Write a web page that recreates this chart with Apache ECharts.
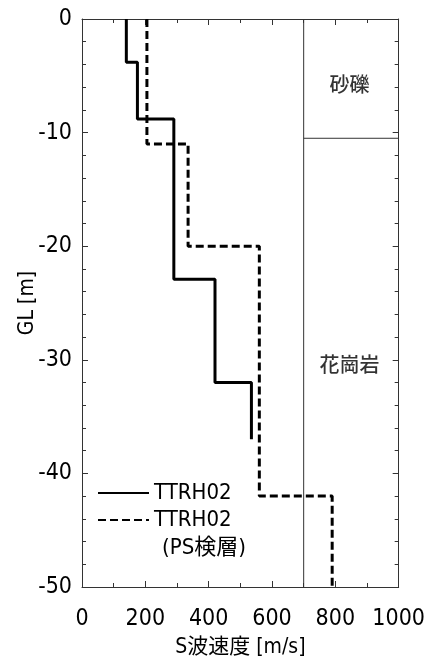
<!DOCTYPE html>
<html><head><meta charset="utf-8">
<script src="https://cdn.jsdelivr.net/npm/echarts@6/dist/echarts.min.js"></script>
<style>html,body{margin:0;padding:0;background:#fff}#c{width:428px;height:664px}</style>
</head><body><div id="c"></div>
<script>
// Solid: TTRH02 — layer velocities and layer boundary depths (m)
const solidVelocity = [140, 175, 290, 420, 535];
const solidDepth = [0, 3.8, 8.8, 22.9, 32, 37];
// Dashed: TTRH02 (PS検層)
const psVelocity = [205, 335, 560, 790];
const psDepth = [0, 11, 20, 42, 50];
// Geology column
const geoBoundaryVelocity = 700;
const geoLayerDepth = 10.5;
const geoLabels = ['砂礫', '花崗岩'];
const geoLabelPos = [[845, -5.8], [845, -30.4]];
const xTicks = [0, 200, 400, 600, 800, 1000];
const yTicks = [0, -10, -20, -30, -40, -50];

function steps(vel, dep) {
  const pts = [];
  for (let i = 0; i < vel.length; i++) {
    pts.push([vel[i], -dep[i]]);
    pts.push([vel[i], -dep[i + 1]]);
  }
  return pts;
}

const FONT = "'Liberation Sans Narrow','DejaVu Sans Condensed','Noto Sans CJK JP',sans-serif";
const AX = '#333';
const chart = echarts.init(document.getElementById('c'), null, {renderer: 'canvas'});
const baseX = {
  type: 'value', min: xTicks[0], max: xTicks[xTicks.length - 1], interval: 200,
  axisLine: {show: true, onZero: false, lineStyle: {color: AX, width: 1}},
  axisTick: {show: true, inside: true, length: 6, lineStyle: {color: AX}},
  minorTick: {show: true, splitNumber: 2, length: 4, lineStyle: {color: AX}},
  splitLine: {show: false}
};
const baseY = {
  type: 'value', min: yTicks[yTicks.length - 1], max: yTicks[0], interval: 10,
  axisLine: {show: true, onZero: false, lineStyle: {color: AX, width: 1}},
  axisTick: {show: true, inside: true, length: 6, lineStyle: {color: AX}},
  minorTick: {show: true, splitNumber: 5, length: 4, lineStyle: {color: AX}},
  splitLine: {show: false}
};
chart.setOption({
  animation: false,
  backgroundColor: '#fff',
  textStyle: {fontFamily: FONT, color: '#000'},
  grid: {left: 82, right: 29, top: 19, bottom: 77},
  xAxis: [
    Object.assign({}, baseX, {
      position: 'bottom',
      axisLabel: {fontSize: 23, color: '#000', margin: 21, fontFamily: FONT, formatter: v => String(v)},
      name: 'S波速度 [m/s]', nameLocation: 'middle', nameGap: 50, nameMoveOverlap: false,
      nameTextStyle: {fontSize: 21, color: '#000', fontFamily: FONT}
    }),
    Object.assign({}, baseX, {position: 'top', axisLabel: {show: false}})
  ],
  yAxis: [
    Object.assign({}, baseY, {
      position: 'left',
      axisLabel: {fontSize: 23, color: '#000', margin: 10, fontFamily: FONT},
      name: 'GL [m]', nameLocation: 'middle', nameGap: 44, nameRotate: 90, nameMoveOverlap: false,
      nameTextStyle: {fontSize: 21, color: '#000', fontFamily: FONT}
    }),
    Object.assign({}, baseY, {position: 'right', axisLabel: {show: false}})
  ],
  legend: {
    orient: 'vertical', left: 97, top: 482, padding: 0,
    itemWidth: 51, itemHeight: 14, itemGap: 5,
    itemStyle: {opacity: 0},
    data: ['TTRH02', 'TTRH02 (PS検層)'],
    formatter: function (n) { return 'TTRH02'; },
    textStyle: {fontSize: 22, color: '#000', fontFamily: FONT, lineHeight: 22}
  },
  graphic: [{
    type: 'text', left: 162, top: 537,
    style: {text: '(PS検層)', font: "22px " + FONT, fill: '#000'}
  }],
  series: [
    {
      name: 'geo', type: 'line', silent: true, symbol: 'none',
      lineStyle: {color: '#333', width: 1},
      data: [[geoBoundaryVelocity, yTicks[0]], [geoBoundaryVelocity, yTicks[yTicks.length - 1]]],
      z: 1
    },
    {
      name: 'geo2', type: 'line', silent: true, symbol: 'none',
      lineStyle: {color: '#333', width: 1},
      data: [[geoBoundaryVelocity, -geoLayerDepth], [xTicks[xTicks.length - 1], -geoLayerDepth]],
      z: 1
    },
    {
      name: 'geoLabels', type: 'scatter', symbolSize: 0, silent: true,
      data: geoLabelPos.map((p, i) => ({value: p, name: geoLabels[i]})),
      label: {show: true, position: 'inside', formatter: '{b}', fontSize: 20, color: '#000', fontWeight: 500, fontFamily: "'Noto Sans CJK JP',sans-serif"}
    },
    {
      name: 'TTRH02', type: 'line', symbol: 'none',
      lineStyle: {color: '#000', width: 3, type: 'solid'},
      itemStyle: {color: '#000'},
      data: steps(solidVelocity, solidDepth), z: 3
    },
    {
      name: 'TTRH02 (PS検層)', type: 'line', symbol: 'none',
      lineStyle: {color: '#000', width: 3, type: [8, 4]},
      itemStyle: {color: '#000'},
      data: steps(psVelocity, psDepth), z: 3
    }
  ]
});
</script></body></html>
